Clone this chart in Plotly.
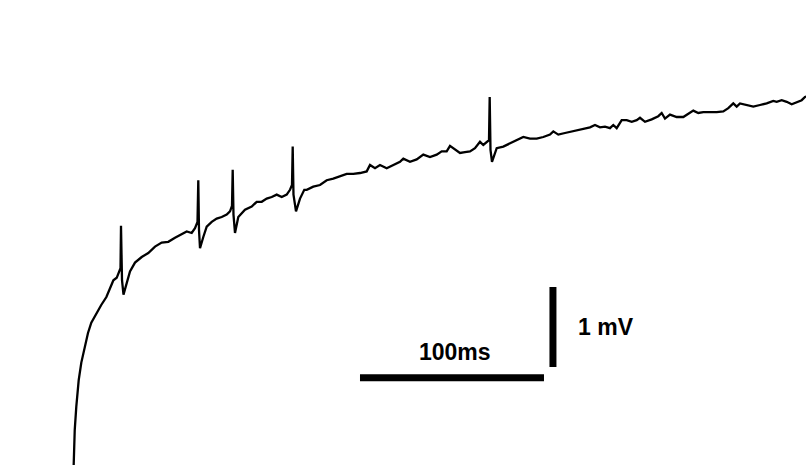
import plotly.graph_objects as go

# Recording trace (time in ms, membrane potential in mV, relative offset)
t_ms = [
    -0.3, 0.4, 1.25, 2.55, 3.97, 5.8, 7.6, 9.4, 12.1, 14.8, 17.6, 19.6, 21.4, 23.2, 24.5,
    25.27, 25.54, 26.09, 26.9, 28.64,
    30.43, 33.15, 36.79, 40.38, 44.02, 47.66, 51.25, 54.89, 58.53, 61.25, 63.97, 65.76,
    67.12, 67.55, 67.93, 68.48,
    70.27, 72.12, 74.84, 77.55, 80.27, 82.99, 84.78,
    85.87, 86.25, 86.68, 87.5,
    89.29, 92.93, 96.58, 99.29, 102.01, 104.73, 107.45, 110.16, 112.88, 115.6, 117.39,
    118.48, 118.86, 119.29, 120.65,
    122.83, 125.16, 126.47, 130.05, 133.7, 137.34, 140.92, 144.57, 148.21, 151.79, 155.43,
    159.08, 160.87, 163.59, 166.3, 169.95, 173.53, 177.17, 178.97, 182.61, 186.25, 189.84,
    193.48, 197.12, 199.84, 202.55, 204.35, 207.07, 209.78, 212.5, 215.22, 217.93, 220.65,
    222.45, 224.29, 225.54,
    225.92, 226.36, 227.17,
    229.73, 233.32, 236.96, 239.67, 242.39, 244.18, 247.83, 251.47, 255.05, 258.7, 260.49,
    263.21, 266.85, 270.49, 274.08, 277.72, 280.43, 283.15, 285.87, 288.59, 291.3, 293.1,
    294.95, 297.66, 300.38, 303.1, 305.82, 307.61, 310.33, 313.97, 317.55, 319.4, 321.2,
    323.91, 327.55, 331.14, 334.78, 336.58, 339.29, 342.01, 345.65, 349.29, 352.88, 355.6,
    358.32, 360.16, 361.96, 365.6, 369.18, 372.83, 376.47, 380.05, 381.9, 384.62, 387.34,
    390.05, 392.77, 395.49, 397.28, 398.5,
]
v_mV = [
    -0.1, 0.44, 0.73, 1.06, 1.28, 1.48, 1.65, 1.78, 1.90, 2.00, 2.10, 2.21, 2.31, 2.34, 2.42,
    2.46, 2.99, 2.31, 2.13, 2.29,
    2.42, 2.53, 2.60, 2.65, 2.73, 2.78, 2.79, 2.84, 2.88, 2.92, 2.90, 2.96,
    3.04, 3.56, 2.94, 2.71,
    2.85, 2.98, 3.04, 3.08, 3.10, 3.13, 3.17,
    3.24, 3.69, 3.13, 2.90,
    3.10, 3.19, 3.23, 3.29, 3.29, 3.33, 3.35, 3.38, 3.35, 3.38, 3.44,
    3.50, 3.98, 3.38, 3.17,
    3.33, 3.44, 3.44, 3.48, 3.50, 3.56, 3.58, 3.61, 3.64, 3.64, 3.65,
    3.67, 3.75, 3.71, 3.75, 3.71, 3.75, 3.79, 3.83, 3.79, 3.82, 3.88,
    3.85, 3.88, 3.92, 3.92, 3.99, 3.94, 3.90, 3.91, 3.92, 3.96, 4.04,
    4.00, 4.04, 4.06,
    4.60, 3.94, 3.79,
    3.96, 3.98, 4.02, 4.06, 4.08, 4.10, 4.08, 4.08, 4.10, 4.13, 4.17,
    4.13, 4.15, 4.17, 4.19, 4.21, 4.22, 4.25, 4.22, 4.23, 4.21, 4.25,
    4.21, 4.31, 4.31, 4.29, 4.31, 4.34, 4.29, 4.32, 4.36, 4.40, 4.33,
    4.38, 4.35, 4.35, 4.40, 4.43, 4.40, 4.41, 4.41, 4.41, 4.42, 4.46,
    4.52, 4.48, 4.52, 4.50, 4.48, 4.50, 4.52, 4.55, 4.54, 4.56, 4.54,
    4.51, 4.54, 4.56, 4.60, 4.61,
]

# Scale bars
time_bar_ms = 100
volt_bar_mV = 1
time_bar_label = "100ms"
volt_bar_label = "1 mV"

time_bar_start = 155.43
time_bar_level = 1.09
volt_bar_t = 260.3
volt_bar_base = 1.225

fig = go.Figure()
fig.add_trace(go.Scatter(
    x=t_ms, y=v_mV, mode="lines",
    line=dict(color="black", width=2.3),
    hoverinfo="skip", showlegend=False,
))
fig.add_trace(go.Scatter(
    x=[time_bar_start, time_bar_start + time_bar_ms],
    y=[time_bar_level, time_bar_level], mode="lines",
    line=dict(color="black", width=7), showlegend=False, hoverinfo="skip",
))
fig.add_trace(go.Scatter(
    x=[volt_bar_t, volt_bar_t],
    y=[volt_bar_base, volt_bar_base + volt_bar_mV], mode="lines",
    line=dict(color="black", width=7), showlegend=False, hoverinfo="skip",
))

font = dict(family="Liberation Sans, Arial, sans-serif", size=23, color="black")
fig.add_annotation(x=207.07, y=1.41, text="<b>" + time_bar_label + "</b>",
                   showarrow=False, font=font, xanchor="center", yanchor="middle")
fig.add_annotation(x=289.0, y=1.725, text="<b>" + volt_bar_label + "</b>",
                   showarrow=False, font=font, xanchor="center", yanchor="middle")

fig.update_layout(
    width=806, height=465,
    margin=dict(l=0, r=0, t=0, b=0),
    paper_bgcolor="white", plot_bgcolor="white",
    xaxis=dict(range=[-40.22, 397.83], visible=False, fixedrange=True),
    yaxis=dict(range=[0, 5.8125], visible=False, fixedrange=True),
)

fig.write_html("out.html", config={"displayModeBar": False},
               post_script="document.body.style.margin='0';")
